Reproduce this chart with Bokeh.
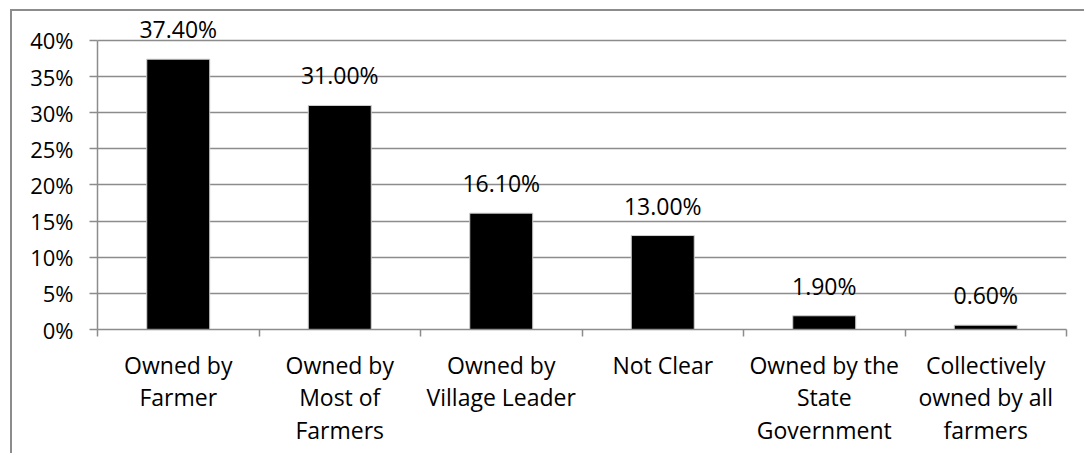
from bokeh.plotting import figure
from bokeh.models import FixedTicker, LinearAxis, NumeralTickFormatter, Range1d, ColumnDataSource, LabelSet
from bokeh.core.properties import value
from bokeh.embed import file_html
from bokeh.resources import INLINE

categories = ["Owned by Farmer", "Owned by Most of Farmers", "Owned by Village Leader",
              "Not Clear", "Owned by the State Government", "Collectively owned by all farmers"]
category_labels = ["Owned by\nFarmer", "Owned by\nMost of\nFarmers", "Owned by\nVillage Leader",
                   "Not Clear", "Owned by the\nState\nGovernment", "Collectively\nowned by all\nfarmers"]
values = [0.374, 0.310, 0.161, 0.130, 0.019, 0.006]
value_labels = ["37.40%", "31.00%", "16.10%", "13.00%", "1.90%", "0.60%"]
y_ticks = [0, 0.05, 0.10, 0.15, 0.20, 0.25, 0.30, 0.35, 0.40]

FONT = "Open Sans"
FS = "23px"
GRID = "#8c8c8c"

n = len(categories)
centers = [i + 0.5 for i in range(n)]
bounds = [float(i) for i in range(n + 1)]

src = ColumnDataSource(dict(x=centers, y=values, lab=value_labels))

p = figure(width=1074, height=444, x_range=Range1d(0, n), y_range=Range1d(0, 0.44),
           output_backend="svg", toolbar_location=None,
           min_border_left=85, min_border_right=20, min_border_top=0, min_border_bottom=126,
           x_axis_type=None)
p.styles = {"margin-left": "10px", "margin-top": "9px",
            "border-left": "2px solid #8c8c8c", "border-top": "2px solid #8c8c8c"}
p.outline_line_color = None
p.background_fill_color = "white"
p.border_fill_color = "white"

p.vbar(x="x", top="y", width=0.39, source=src, fill_color="black", line_color="#d0d0d0", line_width=1)
labels = LabelSet(x="x", y="y", text="lab", source=src, text_align="center", text_baseline="alphabetic",
                  y_offset=21, text_font=value(FONT), text_font_size=value(FS), text_color=value("black"))
p.add_layout(labels)

# y axis
ya = p.yaxis[0]
ya.ticker = FixedTicker(ticks=y_ticks)
ya.formatter = NumeralTickFormatter(format="0%")
ya.bounds = (0, 0.40)
ya.axis_line_color = GRID
ya.axis_line_width = 1.5
ya.major_tick_line_color = GRID
ya.major_tick_line_width = 1.5
ya.major_tick_out = 8
ya.major_tick_in = 0
ya.minor_tick_line_color = None
ya.major_label_text_font = FONT
ya.major_label_text_font_size = "22px"
ya.major_label_text_color = "black"
ya.major_label_standoff = 16

p.ygrid.ticker = FixedTicker(ticks=y_ticks)
p.ygrid.grid_line_color = GRID
p.ygrid.grid_line_width = 1.5
p.xgrid.visible = False

# x axis: boundary ticks
xa = LinearAxis(ticker=FixedTicker(ticks=bounds))
xa.major_label_overrides = {b: "" for b in bounds}
xa.major_label_text_font_size = "0px"
xa.major_label_standoff = 0
xa.axis_line_color = GRID
xa.axis_line_width = 1.5
xa.major_tick_line_color = GRID
xa.major_tick_line_width = 1.5
xa.major_tick_out = 7
xa.major_tick_in = 0
xa.minor_tick_line_color = None
p.add_layout(xa, "below")

# x axis: category labels
xl = LinearAxis(ticker=FixedTicker(ticks=centers))
xl.major_label_overrides = {c: l for c, l in zip(centers, category_labels)}
xl.axis_line_color = None
xl.major_tick_line_color = None
xl.minor_tick_line_color = None
xl.major_label_text_font = FONT
xl.major_label_text_font_size = FS
xl.major_label_text_color = "black"
xl.major_label_text_line_height = 1.02
xl.major_label_standoff = 6
p.add_layout(xl, "below")

open("out.html", "w").write(file_html(p, INLINE))
